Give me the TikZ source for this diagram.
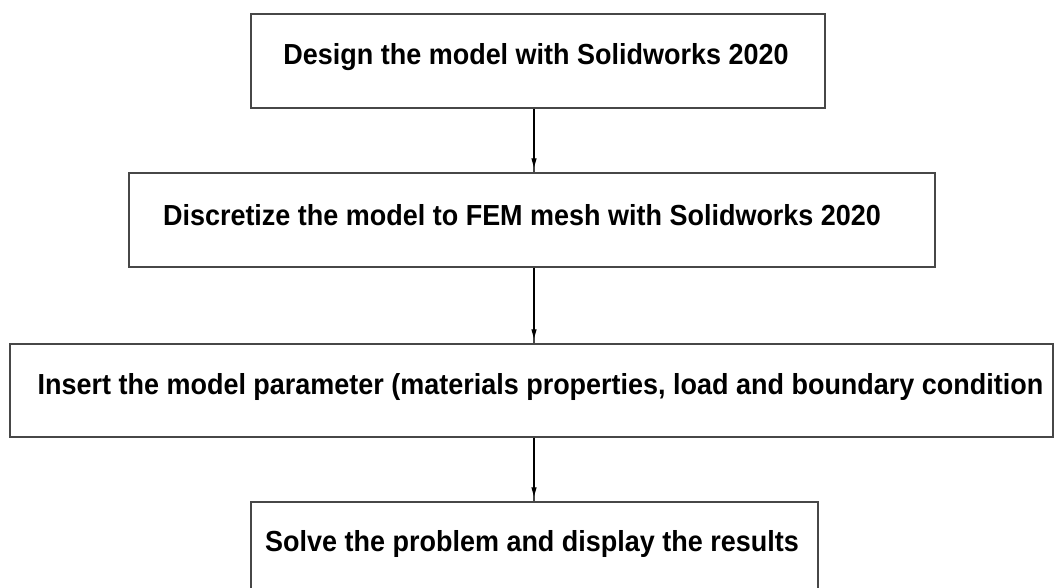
\documentclass[tikz,border=0pt]{standalone}
\usepackage{fontspec}
\setmainfont{Liberation Sans}
\usetikzlibrary{arrows.meta}
\newfontfamily\boxfont{Liberation Sans}[FakeStretch=0.93]
\newcommand{\boxtext}[3]{\hspace*{#1}\raisebox{#2}[0pt][0pt]{#3}}
\begin{document}
\begin{tikzpicture}[x=1pt,y=-1pt,
  box/.style={draw=black!72, line width=1.3pt, rectangle, inner sep=0pt,
    font=\boxfont\bfseries\fontsize{29}{35}\selectfont},
  conn/.style={draw=black!72, line width=1.2pt},
  tip/.style={-{Triangle[length=9pt,width=5pt]}, draw=black, line width=1.2pt, shorten >=5pt}]
\useasboundingbox (0,0) rectangle (1054,588);
\node[box, minimum width=574pt, minimum height=94pt] (b1) at (538,61)
  {\boxtext{-4pt}{-3.5pt}{Design the model with Solidworks 2020}};
\node[box, minimum width=806pt, minimum height=94pt] (b2) at (532,220)
  {\boxtext{-20pt}{-5.5pt}{Discretize the model to FEM mesh with Solidworks 2020}};
\node[box, minimum width=1043pt, minimum height=93pt] (b3) at (531.5,390.5)
  {\boxtext{18pt}{-4pt}{Insert the model parameter (materials properties, load and boundary condition}};
\node[box, minimum width=567pt, minimum height=94pt] (b4) at (534.5,549)
  {\boxtext{-5pt}{-2.5pt}{Solve the problem and display the results}};
\coordinate (x) at (534,0);
\foreach \a/\b in {b1/b2, b2/b3, b3/b4}{
  \draw[conn] (\a.south -| x) -- (\b.north -| x);
  \draw[tip] (\a.south -| x) -- (\b.north -| x);
}
\end{tikzpicture}
\end{document}
